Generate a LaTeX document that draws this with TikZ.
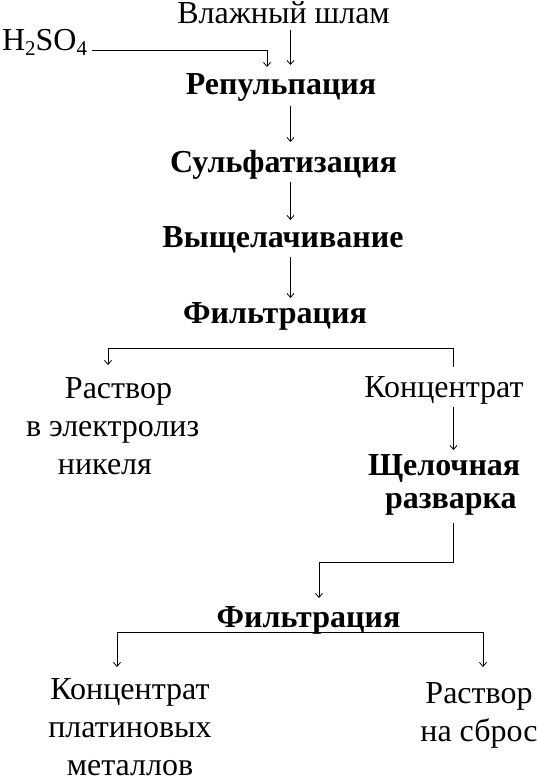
\documentclass[tikz,border=0pt]{standalone}
\usepackage{fontspec}
\setmainfont{Liberation Serif}
\usetikzlibrary{calc,arrows.meta}
\tikzset{
txt/.style={inner sep=0pt,outer sep=0pt,font=\fontsize{32}{38}\selectfont},
item/.style={txt,anchor=base},
stage/.style={txt,anchor=base,font=\fontsize{32}{38}\selectfont\bfseries},
lone/.style={text height=22pt,text depth=7pt},
flow/.style={-{Straight Barb[length=4pt,width=7pt]},line width=0.8pt,black},
fork/.style={{Straight Barb[length=4pt,width=7pt]}-{Straight Barb[length=4pt,width=7pt]},line width=0.8pt,black}
}
\newcommand{\subidx}[1]{\raisebox{-5pt}{\fontsize{21}{21}\selectfont #1}}

\begin{document}
\begin{tikzpicture}[x=1pt,y=-1pt]
\useasboundingbox (0,0) rectangle (537,777);
% columns and bends
\coordinate (axis) at (290.5,0);
\coordinate (acid) at (267,0);
\coordinate (colR) at (453.5,0);
\coordinate (fA) at (108,348);
\coordinate (bend2) at (319,562);
\coordinate (fC) at (117,632);
\coordinate (fD) at (483,632);

% main column
\node[item,lone] (wet) at (283.5,23) {Влажный шлам};
\node[txt,lone,anchor=base west] (h2so4) at (2,50) {H\subidx{2}SO\subidx{4}};
\node[stage,lone] (rep) at (281,94) {Репульпация};
\node[stage,lone] (sulf) at (283.5,172) {Сульфатизация};
\node[stage,lone] (leach) at (283,247) {Выщелачивание};
\node[stage,lone] (filt1) at (275,323) {Фильтрация};

% branches (multi-line nodes sit on their last line)
\node[txt,anchor=base west,align=left] (sol1) at (26,474) {\hspace*{39pt}Раствор\\в электролиз\\\hspace*{32pt}никеля};
\node[item,lone] (conc1) at (444,397) {Концентрат};
\node[txt,anchor=base west,align=left,font=\fontsize{32}{33}\selectfont\bfseries] (alk) at (368,508) {Щелочная\\\hspace*{17pt}разварка};
\node[stage,lone] (filt2) at (308.5,627) {Фильтрация};
\node[item,align=center] (conc2) at (130,775) {Концентрат\\платиновых\\металлов};
\node[item,align=center] (sol2) at (479,741) {Раствор\\на сброс};

% connectors
\draw[flow,shorten >=7pt] (wet.south -| axis) -- (rep.north -| axis);
\draw[flow,shorten <=5pt,shorten >=5pt] (h2so4.base east) -| (rep.north -| acid);
\draw[flow,shorten <=5pt,shorten >=8pt] (rep.south -| axis) -- (sulf.north -| axis);
\draw[flow,shorten <=3pt,shorten >=5pt] (sulf.south -| axis) -- (leach.north -| axis);
\draw[flow,shorten <=3pt,shorten >=3pt] (leach.south -| axis) -- (filt1.north -| axis);
\draw[flow,shorten <=8pt,shorten >=12pt] (conc1.north -| colR) |- (fA) -- (sol1.north -| fA);
\draw[flow,shorten <=3pt,shorten >=4pt] (conc1.south -| colR) -- (alk.north -| colR);
\draw[flow,shorten <=8pt,shorten >=7pt] (alk.south -| colR) |- (bend2) -- (filt2.north -| bend2);
\draw[fork,shorten <=11pt,shorten >=15pt] (conc2.north -| fC) |- (fD) -- (sol2.north -| fD);
\end{tikzpicture}
\end{document}
